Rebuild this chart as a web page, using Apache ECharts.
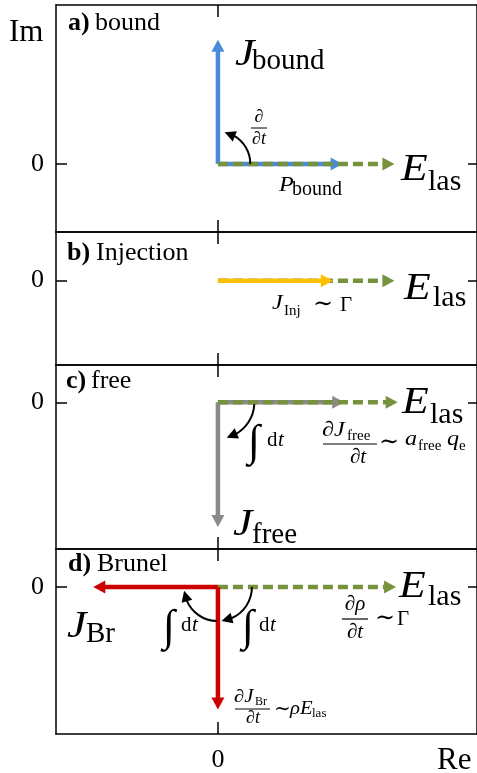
<!DOCTYPE html>
<html>
<head>
<meta charset="utf-8">
<script src="https://cdn.jsdelivr.net/npm/echarts@6/dist/echarts.min.js"></script>
<style>
  html, body { margin: 0; padding: 0; background: #fff; }
  #chart { width: 477px; height: 773px; }
</style>
</head>
<body>
<div id="chart"></div>
<script>
// Phasor tips (Re, Im); every arrow starts at the origin of its panel.
const fieldTips = [[1.09, 0], [1.09, 0], [1.11, 0], [1.10, 0]]; // E_las, panels a-d
const boundCurrent = [0, 0.765];
const boundPolarisation = [0.77, 0];
const injectionCurrent = [0.71, 0];
const freeCurrentRate = [0.78, 0];
const freeCurrent = [0, -0.77];
const brunelCurrent = [-0.77, 0];
const brunelCurrentRate = [0, -0.77];

// Rotation arcs around the origin: [radius, start angle (deg), end angle (deg)]
const arcsBound = [[0.2, 0, 78]];
const arcsFree = [[0.225, -3, -76]];
const arcsBrunel = [[0.21, 0, -84], [0.21, -92, -174]];

// Axis ranges of the four stacked panels
const reRange = [-1, 1.6];
const imRanges = [[-0.42, 0.98], [-0.52, 0.30], [-0.905, 0.23], [-0.925, 0.24]];
const tickValues = [0];

const panelTitles = [['a)', 'bound'], ['b)', 'Injection'], ['c)', 'free'], ['d)', 'Brunel']];

const COLORS = {
  field: '#76923c',
  bound: '#4a8ad8',
  inj: '#ffc000',
  free: '#8a8a8a',
  brunel: '#cc0000',
  ink: '#000'
};
const FAM = "'Liberation Serif','DejaVu Serif',serif";

const gridBoxes = [
  { top: 5, height: 227 },
  { top: 232, height: 133 },
  { top: 365, height: 184 },
  { top: 549, height: 189 }
];

const chart = echarts.init(document.getElementById('chart'), null, { renderer: 'canvas' });

function axisCommon() {
  return {
    axisLine: { show: true, onZero: false, lineStyle: { color: COLORS.ink, width: 1.5 } },
    splitLine: { show: false }
  };
}

const grids = gridBoxes.map(b => ({ left: 56, width: 422, top: b.top, height: b.height, containLabel: false }));
const xAxes = [];
const yAxes = [];
gridBoxes.forEach((b, i) => {
  ['bottom', 'top'].forEach(pos => {
    xAxes.push(Object.assign(axisCommon(), {
      type: 'value', gridIndex: i, position: pos, min: reRange[0], max: reRange[1],
      axisTick: { show: true, inside: true, length: 12, customValues: tickValues,
        lineStyle: { color: COLORS.ink, width: 1.5 } },
      axisLabel: { show: i === 3 && pos === 'bottom', customValues: tickValues, margin: 13,
        color: COLORS.ink, fontSize: 26, fontFamily: FAM }
    }));
  });
  ['left', 'right'].forEach(pos => {
    yAxes.push(Object.assign(axisCommon(), {
      type: 'value', gridIndex: i, position: pos, min: imRanges[i][0], max: imRanges[i][1],
      axisTick: { show: true, inside: true, length: pos === 'left' ? 11 : 9, customValues: tickValues,
        lineStyle: { color: COLORS.ink, width: 1.5 } },
      axisLabel: { show: pos === 'left', customValues: tickValues, margin: 12,
        color: COLORS.ink, fontSize: 26, fontFamily: FAM }
    }));
  });
});

// Straight phasor arrow drawn from [x1, y1] to the tip [x2, y2]
function arrowSeries(gi, tips, color, dashed, z) {
  return {
    type: 'custom',
    xAxisIndex: gi * 2,
    yAxisIndex: gi * 2,
    z: z,
    silent: true,
    dimensions: ['x1', 'y1', 'x2', 'y2'],
    encode: { x: [0, 2], y: [1, 3] },
    data: tips.map(t => [0, 0, t[0], t[1]]),
    renderItem: function (params, api) {
      const p0 = api.coord([api.value(0), api.value(1)]);
      const p1 = api.coord([api.value(2), api.value(3)]);
      const dx = p1[0] - p0[0], dy = p1[1] - p0[1];
      const len = Math.sqrt(dx * dx + dy * dy);
      const ux = dx / len, uy = dy / len;
      const headLen = 12, halfW = 6.5;
      const bx = p1[0] - ux * headLen, by = p1[1] - uy * headLen;
      return {
        type: 'group',
        children: [
          { type: 'line', shape: { x1: p0[0], y1: p0[1], x2: bx + ux, y2: by + uy },
            style: { stroke: color, lineWidth: 4.5, lineDash: dashed ? [10, 5] : null } },
          { type: 'polygon', shape: { points: [[p1[0], p1[1]], [bx - uy * halfW, by + ux * halfW], [bx + uy * halfW, by - ux * halfW]] },
            style: { fill: color } }
        ]
      };
    }
  };
}

// Curved rotation arrow around the origin
function arcSeries(gi, arcs) {
  return {
    type: 'custom',
    xAxisIndex: gi * 2,
    yAxisIndex: gi * 2,
    z: 5,
    silent: true,
    dimensions: ['cx', 'cy', 'r', 'a0', 'a1'],
    encode: { x: 0, y: 1 },
    data: arcs.map(a => [0, 0, a[0], a[1], a[2]]),
    renderItem: function (params, api) {
      const c = api.coord([api.value(0), api.value(1)]);
      const R = api.size([api.value(2), 0])[0];
      const a0 = api.value(3), a1 = api.value(4);
      const s = a1 > a0 ? 1 : -1;
      const headLen = 11, halfW = 5.5;
      const delta = (headLen / R) * 180 / Math.PI;
      const ab = a1 - s * delta;
      const pt = a => [c[0] + R * Math.cos(a * Math.PI / 180), c[1] - R * Math.sin(a * Math.PI / 180)];
      const T = pt(a1), B = pt(ab);
      let ux = T[0] - B[0], uy = T[1] - B[1];
      const l = Math.sqrt(ux * ux + uy * uy); ux /= l; uy /= l;
      const arcEnd = ab + s * 2;
      return {
        type: 'group',
        children: [
          { type: 'arc', shape: { cx: c[0], cy: c[1], r: R,
              startAngle: -a0 * Math.PI / 180, endAngle: -arcEnd * Math.PI / 180, clockwise: s < 0 },
            style: { stroke: COLORS.ink, fill: null, lineWidth: 2 } },
          { type: 'polygon', shape: { points: [T, [B[0] - uy * halfW, B[1] + ux * halfW], [B[0] + uy * halfW, B[1] - ux * halfW]] },
            style: { fill: COLORS.ink } }
        ]
      };
    }
  };
}

const series = [
  // a) bound
  arrowSeries(0, [boundCurrent, boundPolarisation], COLORS.bound, false, 2),
  arrowSeries(0, [fieldTips[0]], COLORS.field, true, 3),
  arcSeries(0, arcsBound),
  // b) injection
  arrowSeries(1, [fieldTips[1]], COLORS.field, true, 2),
  arrowSeries(1, [injectionCurrent], COLORS.inj, false, 3),
  // c) free
  arrowSeries(2, [freeCurrentRate, freeCurrent], COLORS.free, false, 2),
  arrowSeries(2, [fieldTips[2]], COLORS.field, true, 3),
  arcSeries(2, arcsFree),
  // d) Brunel
  arrowSeries(3, [fieldTips[3]], COLORS.field, true, 2),
  arrowSeries(3, [brunelCurrent, brunelCurrentRate], COLORS.brunel, false, 3),
  arcSeries(3, arcsBrunel)
];

// Text placed by its alphabetic baseline; sx widens the glyphs a little
function tx(x, base, text, size, opt) {
  opt = opt || {};
  const font = (opt.italic ? 'italic ' : '') + (opt.bold ? 'bold ' : '') + size + 'px ' + (opt.fam || FAM);
  return {
    type: 'text', x: x, y: base - 0.34 * size, z: 20, silent: true,
    scaleX: opt.sx || 1,
    style: { text: text, font: font, fill: COLORS.ink, align: opt.align || 'left', verticalAlign: 'middle' }
  };
}
function hline(x1, x2, y, w) {
  return { type: 'line', z: 20, silent: true, shape: { x1: x1, y1: y, x2: x2, y2: y },
    style: { stroke: COLORS.ink, lineWidth: w || 1 } };
}
const I = { italic: true };
const IW = { italic: true, sx: 1.15 };
const B = { bold: true };
const C = { italic: true, align: 'center' };

const titleBases = [32, 262, 390, 573];
const titleX = [[68, 95], [67, 96], [66, 91], [68, 97]];

const texts = [
  tx(9, 43, 'Im', 31),
  tx(437, 771, 'Re', 31)
];
panelTitles.forEach((t, i) => {
  texts.push(tx(titleX[i][0], titleBases[i], t[0], 26, B));
  texts.push(tx(titleX[i][1], titleBases[i], t[1], 26));
});

texts.push(
  // a) bound
  tx(235, 68, 'J', 38, IW), tx(252, 71, 'bound', 29),
  tx(401, 183, 'E', 38, IW), tx(428, 192, 'las', 30),
  tx(279, 193, 'P', 21, IW), tx(292, 197, 'bound', 20),
  tx(259, 123, '∂', 18, C), hline(251, 267, 128), tx(259, 145, '∂t', 18, C),
  // b) injection
  tx(272, 311, 'J', 21, IW), tx(284, 316, 'Inj', 15),
  tx(313, 313, '∼', 24), tx(340, 313, 'Γ', 21),
  tx(404, 302, 'E', 38, IW), tx(433, 308, 'las', 30),
  // c) free
  tx(402, 416, 'E', 38, IW), tx(430, 425, 'las', 30),
  tx(248, 458, '∫', 44), tx(267, 448, 'd', 21), tx(278, 448, 't', 21, I),
  tx(322, 438, '∂J', 21, IW), tx(347, 441, 'free', 15), hline(323, 377, 444, 1.2), tx(358, 465, '∂t', 21, C),
  tx(379, 451, '∼', 24), tx(405, 447, 'a', 21, IW), tx(418, 451, 'free', 15),
  tx(447, 447, 'q', 21, IW), tx(459, 451, 'e', 15),
  tx(233, 538, 'J', 38, IW), tx(252, 545, 'free', 29),
  // d) Brunel
  tx(399, 600, 'E', 38, IW), tx(428, 607, 'las', 30),
  tx(67, 640, 'J', 38, IW), tx(86, 644, 'Br', 29),
  tx(163, 643, '∫', 44), tx(181, 633, 'd', 21), tx(192, 633, 't', 21, I),
  tx(242, 643, '∫', 44), tx(259, 633, 'd', 21), tx(270, 633, 't', 21, I),
  tx(355, 612, '∂ρ', 21, C), hline(342, 368, 619, 1.2), tx(355, 640, '∂t', 21, C),
  tx(375, 627, '∼', 24), tx(397, 627, 'Γ', 21),
  tx(234, 703, '∂J', 18, IW), tx(255, 706, 'Br', 12), hline(235, 270, 709, 1), tx(253, 724, '∂t', 18, C),
  tx(274, 717, '∼', 20), tx(290, 715, 'ρE', 18, IW), tx(312, 718, 'las', 13)
);

chart.setOption({
  animation: false,
  backgroundColor: '#fff',
  grid: grids,
  xAxis: xAxes,
  yAxis: yAxes,
  series: series,
  graphic: { elements: texts }
});
</script>
</body>
</html>
